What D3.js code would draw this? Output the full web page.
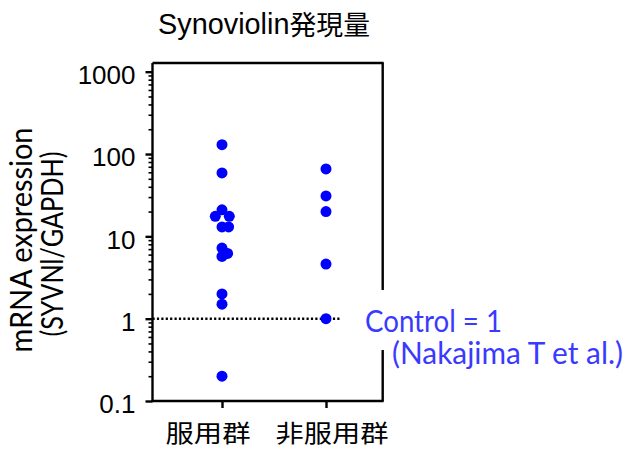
<!DOCTYPE html>
<html lang="ja">
<head>
<meta charset="UTF-8">
<title>Synoviolin発現量</title>
<script src="https://d3js.org/d3.v7.min.js"></script>
<style>
  body { margin: 0; background: #fff; }
</style>
</head>
<body>
<div id="chart"></div>
<script>
// data
const groups = ["服用群", "非服用群"];
const takers = [130, 59, 21, 17.5, 17.5, 13, 13, 7.2, 6.2, 5.7, 2.0, 1.5, 0.2];
const takersJitter = [0, 0, 0, -0.67, 0.73, 0, 0.66, 0, 0.56, 0, 0, 0, 0]; // in dot widths
const nonTakers = [66, 31, 20, 4.6, 1.0];
const nonTakersJitter = [0, 0, 0, 0, 0];
const yTicks = [0.1, 1, 10, 100, 1000];
const controlLevel = 1;

const W = 627, H = 449;
const plotL = 152.5, plotR = 382.7, plotT = 63, plotB = 401;
const dotR = 5.5;

const svg = d3.select("#chart").append("svg")
    .attr("width", W)
    .attr("height", H);

const y = d3.scaleLog().domain([0.1, 1000]).range([plotB, 71.7]);
const x = d3.scalePoint().domain(groups).range([222, 326]);

// stretch text to a target width
function fit(sel, len) {
    sel.attr("textLength", len).attr("lengthAdjust", "spacingAndGlyphs");
}

// title
const title = svg.append("text")
    .attr("x", 158).attr("y", 34);
title.append("tspan")
    .style("font-family", "'Liberation Sans Narrow', 'Liberation Sans', sans-serif")
    .style("font-size", "29px")
    .text("Synoviolin");
title.append("tspan")
    .attr("dy", 1)
    .style("font-family", "'Noto Sans CJK JP', sans-serif")
    .style("font-size", "27px")
    .text("発現量");
fit(title, 212);

// minor ticks
const minor = y.ticks().filter(d => !yTicks.includes(d));
svg.append("g")
    .attr("transform", `translate(${plotL},0)`)
    .call(d3.axisLeft(y).tickValues(minor).tickSize(4).tickFormat(""))
    .call(g => g.select(".domain").remove())
    .selectAll("line").attr("stroke-width", 1.6);

// major ticks
const yAxis = svg.append("g")
    .attr("transform", `translate(${plotL},0)`)
    .call(d3.axisLeft(y).tickValues(yTicks).tickSize(7).tickPadding(10)
        .tickFormat(d => String(d)))
    .call(g => g.select(".domain").remove());
yAxis.selectAll("line").attr("stroke-width", 2.4);
yAxis.selectAll("text")
    .attr("dy", "0.45em")
    .style("font-family", "'Liberation Sans', Arial, sans-serif")
    .style("font-size", "26px")
    .attr("fill", "#000");

// frame
const frame = svg.append("g").attr("stroke", "#000").attr("stroke-width", 2.4).attr("fill", "none");
frame.append("line").attr("x1", plotL).attr("x2", plotL).attr("y1", plotT).attr("y2", plotB + 1);
frame.append("line").attr("x1", plotL - 1).attr("x2", plotR + 1).attr("y1", plotB).attr("y2", plotB);
frame.append("line").attr("x1", plotL).attr("x2", plotR + 1).attr("y1", plotT).attr("y2", plotT);
frame.append("line").attr("x1", plotR).attr("x2", plotR).attr("y1", plotT).attr("y2", plotB);

// x ticks
svg.append("g")
    .attr("transform", `translate(0,${plotB})`)
    .call(d3.axisBottom(x).tickSize(7).tickFormat(""))
    .call(g => g.select(".domain").remove())
    .selectAll("line").attr("stroke-width", 2.4);

// x labels
const labelShift = [-14, 6];
const labelLen = [85, 113];
svg.selectAll(".xlab").data(groups).enter().append("text")
    .attr("class", "xlab")
    .attr("x", (d, i) => x(d) + labelShift[i])
    .attr("y", 442)
    .attr("text-anchor", "middle")
    .style("font-family", "'Noto Sans CJK JP', sans-serif")
    .style("font-size", "24px")
    .text(d => d)
    .each(function(d, i) { fit(d3.select(this), labelLen[i]); });

// y axis title
const yt = svg.append("text")
    .attr("transform", "translate(32,240) rotate(-90)")
    .attr("text-anchor", "middle")
    .style("font-family", "Lato, 'Open Sans', sans-serif")
    .style("font-size", "31px")
    .text("mRNA expression");
fit(yt, 225);
const yt2 = svg.append("text")
    .attr("transform", "translate(63,244) rotate(-90)")
    .attr("text-anchor", "middle")
    .style("font-family", "Lato, 'Open Sans', sans-serif")
    .style("font-size", "31px")
    .text("(SYVNl/GAPDH)");
fit(yt2, 185);

// control line
svg.append("line")
    .attr("x1", plotL).attr("x2", 341)
    .attr("y1", y(controlLevel)).attr("y2", y(controlLevel))
    .attr("stroke", "#000")
    .attr("stroke-width", 2.4)
    .attr("stroke-dasharray", "2.2,2.2");

// dots
const points = takers.map((v, i) => ({ g: groups[0], v, j: takersJitter[i] }))
    .concat(nonTakers.map((v, i) => ({ g: groups[1], v, j: nonTakersJitter[i] })));
svg.selectAll(".dot").data(points).enter().append("circle")
    .attr("class", "dot")
    .attr("cx", d => x(d.g) + d.j * 10)
    .attr("cy", d => y(d.v))
    .attr("r", dotR)
    .attr("fill", "#0000ff");

// control annotation (white box covers the frame)
svg.append("rect")
    .attr("x", 352).attr("y", 290)
    .attr("width", W - 352).attr("height", 60)
    .attr("fill", "#fff");
const blue = "#3a3aff";
fit(svg.append("text")
    .attr("x", 365).attr("y", 332)
    .attr("fill", blue)
    .style("font-family", "Lato, 'Open Sans', sans-serif")
    .style("font-size", "30px")
    .text("Control = " + controlLevel), 137);
fit(svg.append("text")
    .attr("x", 392).attr("y", 364)
    .attr("fill", blue)
    .style("font-family", "Lato, 'Open Sans', sans-serif")
    .style("font-size", "30px")
    .text("(Nakajima T et al.)"), 231);
</script>
</body>
</html>
